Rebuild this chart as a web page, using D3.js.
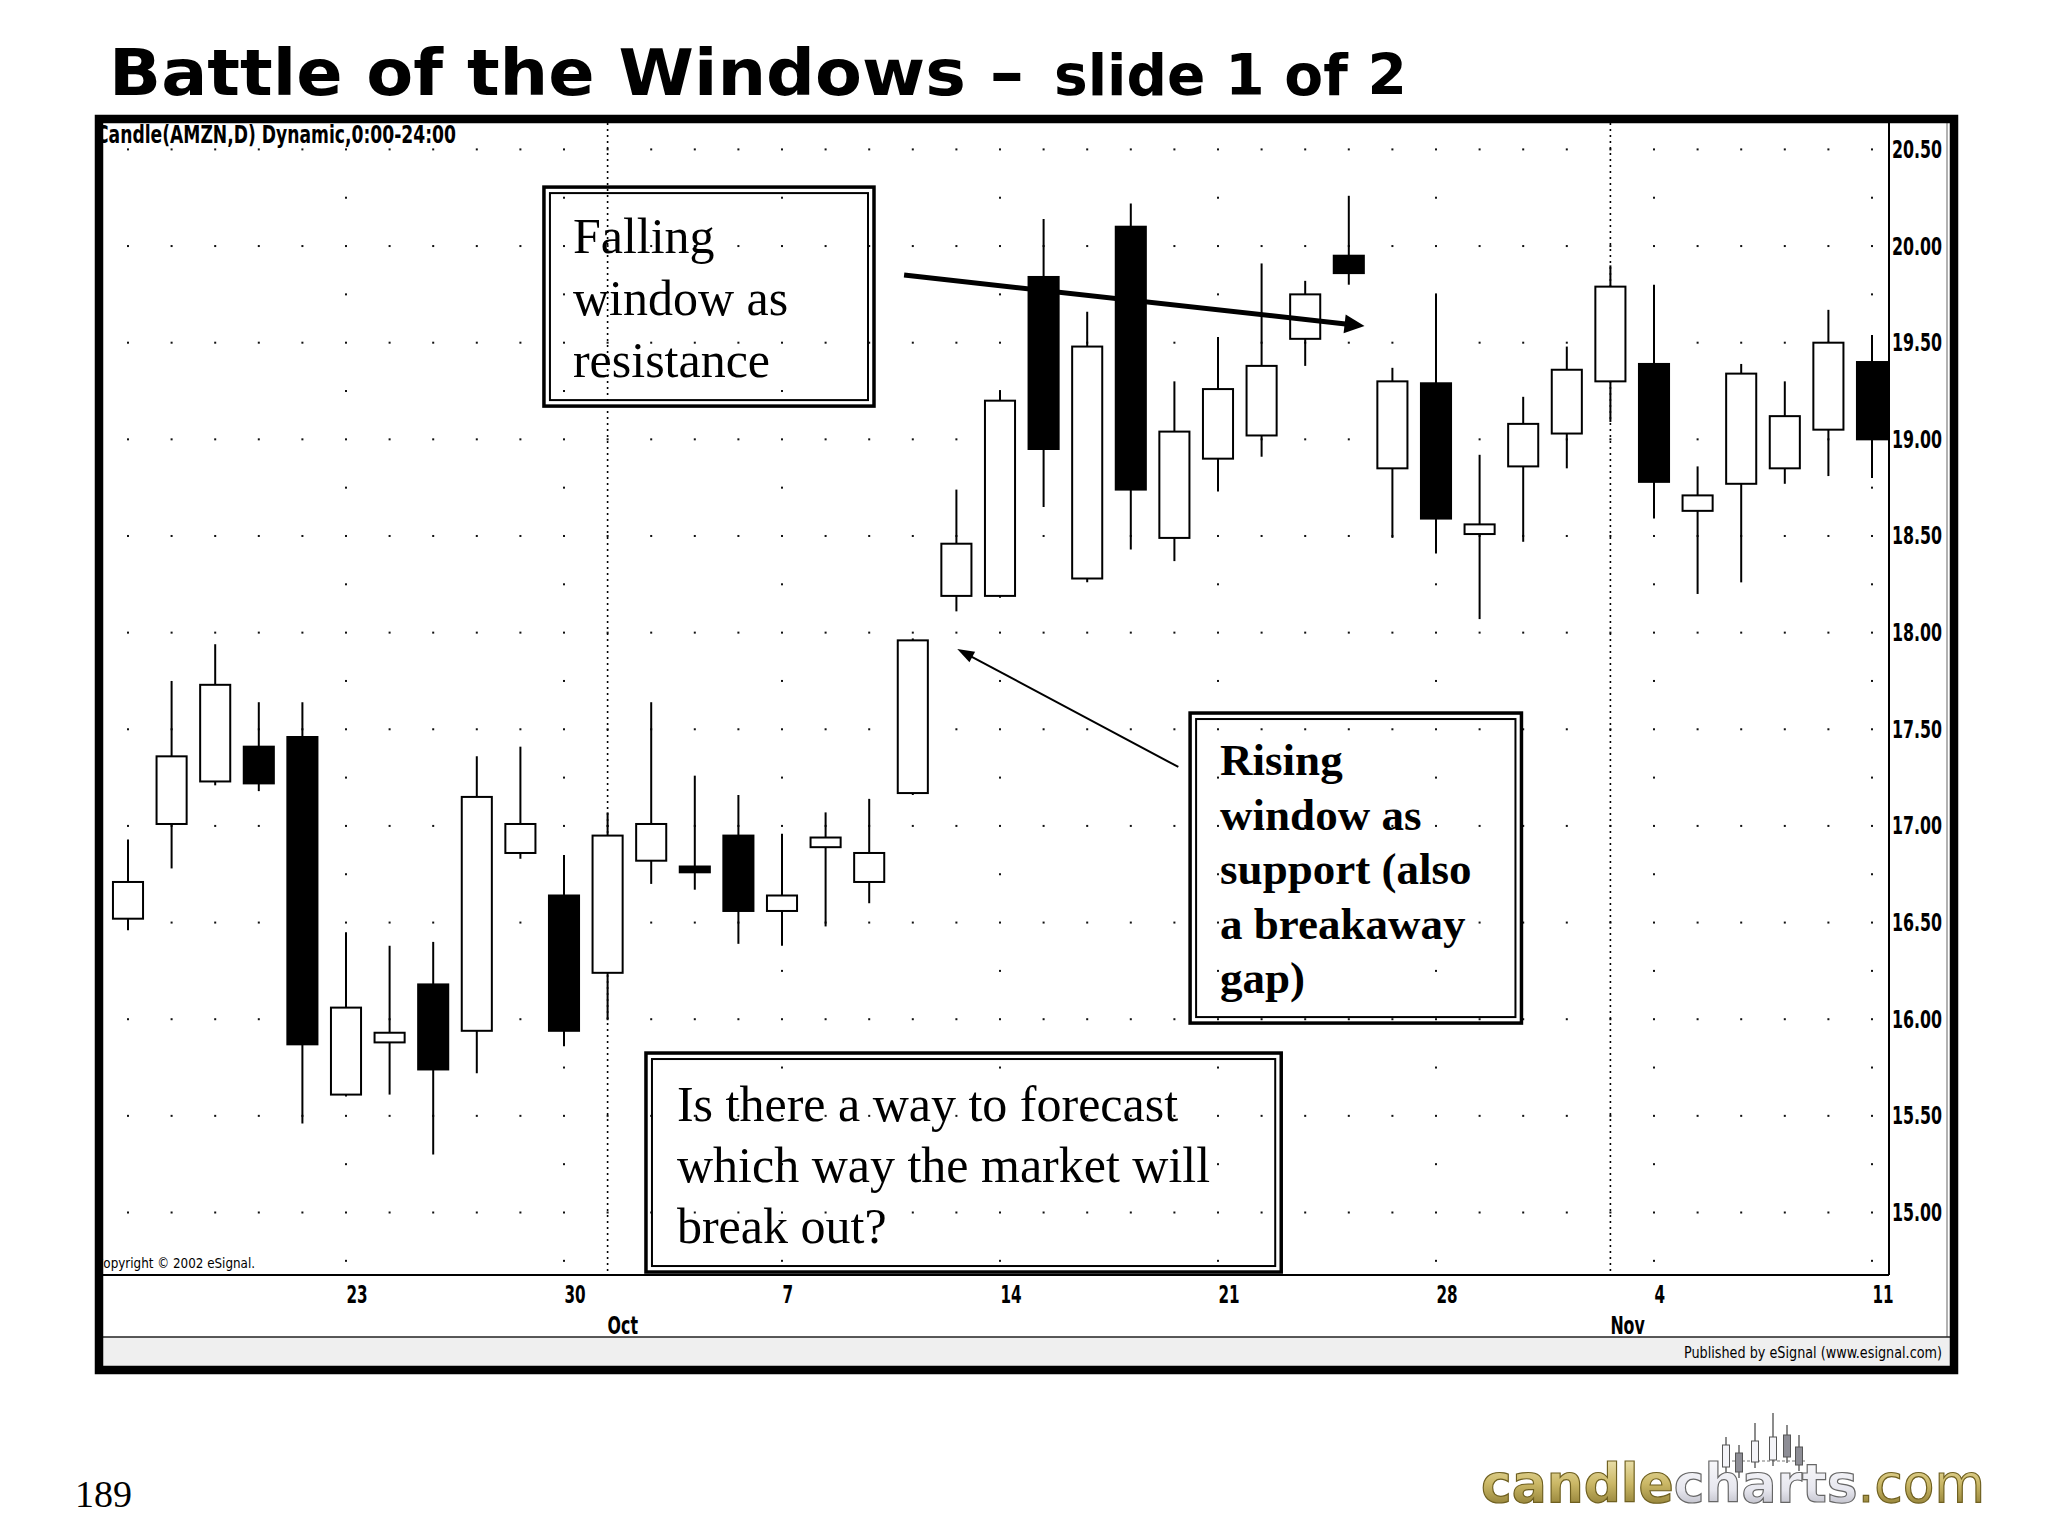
<!DOCTYPE html>
<html><head><meta charset="utf-8">
<script src="https://cdn.jsdelivr.net/npm/d3@7"></script>
<style>
html,body{margin:0;padding:0;background:#fff;}
svg{display:block;}
</style></head><body>
<svg id="c" width="2048" height="1536"></svg>
<script>
// ---------------- DATA ----------------
const dates = ["2002-09-16","2002-09-17","2002-09-18","2002-09-19","2002-09-20",
  "2002-09-23","2002-09-24","2002-09-25","2002-09-26","2002-09-27",
  "2002-09-30","2002-10-01","2002-10-02","2002-10-03","2002-10-04",
  "2002-10-07","2002-10-08","2002-10-09","2002-10-10","2002-10-11",
  "2002-10-14","2002-10-15","2002-10-16","2002-10-17","2002-10-18",
  "2002-10-21","2002-10-22","2002-10-23","2002-10-24","2002-10-25",
  "2002-10-28","2002-10-29","2002-10-30","2002-10-31","2002-11-01",
  "2002-11-04","2002-11-05","2002-11-06","2002-11-07","2002-11-08","2002-11-11"];
const openVals  = [16.52,17.01,17.23,17.41,17.46, 15.61,15.88,16.18,15.94,16.86, 16.64,16.24,16.82,16.79,16.95,
  16.56,16.89,16.71,17.17,18.19, 18.19,19.84,18.28,20.10,18.49, 18.90,19.02,19.52,19.95,18.85,
  19.29,18.51,18.86,19.03,19.30, 19.39,18.63,18.77,18.85,19.05,19.40];
const highVals  = [16.93,17.75,17.94,17.64,17.64, 16.45,16.38,16.40,17.36,17.41, 16.85,17.07,17.64,17.26,17.16,
  16.96,17.07,17.14,17.97,18.74, 19.25,20.14,19.66,20.22,19.30, 19.53,19.91,19.82,20.26,19.37,
  19.75,18.92,19.22,19.48,19.90, 19.80,18.86,19.39,19.30,19.67,19.54];
const lowVals   = [16.46,16.78,17.21,17.18,15.46, 15.60,15.61,15.30,15.72,16.83, 15.86,16.00,16.70,16.67,16.39,
  16.38,16.48,16.60,17.16,18.11, 18.18,18.65,18.26,18.43,18.37, 18.73,18.91,19.38,19.80,18.49,
  18.41,18.07,18.47,18.85,19.09, 18.59,18.20,18.26,18.77,18.81,18.80];
const closeVals = [16.71,17.36,17.73,17.22,15.87, 16.06,15.93,15.74,17.15,17.01, 15.94,16.95,17.01,16.76,16.56,
  16.64,16.94,16.86,17.96,18.46, 19.20,18.95,19.48,18.74,19.04, 19.26,19.38,19.75,19.86,19.30,
  18.59,18.56,19.08,19.36,19.79, 18.78,18.71,19.34,19.12,19.50,19.00];
const dayTickLabels = ["23","30","7","14","21","28","4","11"];
const monthTickLabels = ["Oct","Nov"];
const priceTicks = [15,15.5,16,16.5,17,17.5,18,18.5,19,19.5,20,20.5];
const priceTickLabels = ["15.00","15.50","16.00","16.50","17.00","17.50","18.00","18.50","19.00","19.50","20.00","20.50"];
const titleMain = "Battle of the Windows \u2013";
const titleSub = "slide 1 of 2";
const note1 = ["Falling","window as","resistance"];
const note2 = ["Rising","window as","support (also","a breakaway","gap)"];
const note3 = ["Is there a way to forecast","which way the market will","break out?"];

// ---------------- SETUP ----------------
const svg = d3.select("#c");
const parse = d3.timeParse("%Y-%m-%d");
const days = dates.map(parse);
const candles = dates.map((d,i)=>({i, date:days[i], o:openVals[i], h:highVals[i], l:lowVals[i], c:closeVals[i]}));
const x = d3.scaleLinear().domain([0, dates.length-1]).range([128, 1872]);
const y = d3.scaleLinear().domain([15, 20.5]).range([1212.5, 149.4]);
const P = {l:103, r:1889, t:123, b:1275};
const step = x(1)-x(0);
const bw = step*0.69;
// weekly marks: Mondays after the first bar (the first bar's week has no label)
const mondays = candles.filter(c=>c.i>0 && c.date.getDay()===1).map(c=>c.i);
const monthStarts = candles.filter(c=>c.i>0 && c.date.getMonth()!==days[c.i-1].getMonth()).map(c=>c.i);

svg.append("rect").attr("width",2048).attr("height",1536).attr("fill","#fff");

// dot grid
const dots = [];
candles.forEach(c=>{
  const q = mondays.includes(c.i) ? 1 : 2;
  for(let k=0;k<=30;k+=q){ const v=14.5+k*0.25; const py=y(v); if(py>P.t+3 && py<P.b-3) dots.push([x(c.i),py]); }
});
svg.append("g").selectAll("rect").data(dots).join("rect")
  .attr("x",d=>d[0]-1).attr("y",d=>d[1]-1).attr("width",2).attr("height",2).attr("fill","#111");

// month separators
svg.append("g").selectAll("line").data(monthStarts).join("line")
  .attr("x1",d=>x(d)).attr("x2",d=>x(d)).attr("y1",P.t).attr("y2",P.b)
  .attr("stroke","#000").attr("stroke-width",1.6).attr("stroke-dasharray","2,4");

// candles
const cg = svg.append("g").selectAll("g").data(candles).join("g");
cg.append("line").attr("x1",d=>x(d.i)).attr("x2",d=>x(d.i))
  .attr("y1",d=>y(d.h)).attr("y2",d=>y(d.l)).attr("stroke","#000").attr("stroke-width",2);
cg.append("rect")
  .attr("x",d=>x(d.i)-bw/2).attr("width",bw)
  .attr("y",d=>y(Math.max(d.o,d.c)))
  .attr("height",d=>Math.max(3, y(Math.min(d.o,d.c))-y(Math.max(d.o,d.c))))
  .attr("fill",d=>d.c>=d.o?"#fff":"#000").attr("stroke","#000").attr("stroke-width",2);

// axes lines
svg.append("line").attr("x1",P.l).attr("x2",P.r).attr("y1",P.b).attr("y2",P.b).attr("stroke","#000").attr("stroke-width",2);
svg.append("line").attr("x1",P.r).attr("x2",P.r).attr("y1",P.t).attr("y2",P.b).attr("stroke","#000").attr("stroke-width",2);
svg.append("line").attr("x1",1947).attr("x2",1947).attr("y1",P.t).attr("y2",1337).attr("stroke","#999").attr("stroke-width",1.5);

// price axis
const yAxis = d3.axisRight(y).tickValues(priceTicks).tickSize(0).tickPadding(3)
  .tickFormat((d,i)=>priceTickLabels[i]);
const ya = svg.append("g").attr("transform",`translate(${P.r},0)`).call(yAxis);
ya.select(".domain").remove();
ya.selectAll("text").attr("class","narrow").attr("font-size",25).attr("font-weight","bold").attr("fill","#000");

// date axis
const xAxis = d3.axisBottom(x).tickValues(mondays).tickSize(0).tickPadding(0)
  .tickFormat((d,i)=>dayTickLabels[i]);
const xa = svg.append("g").attr("transform",`translate(0,${P.b})`).call(xAxis);
xa.select(".domain").remove();
xa.selectAll("text").attr("class","narrow").attr("font-size",24).attr("font-weight","bold")
  .attr("text-anchor","start").attr("dy",null).attr("y",28).attr("fill","#000");
svg.append("g").selectAll("text").data(monthStarts).join("text").attr("class","narrow")
  .attr("x",d=>x(d)).attr("y",1334).attr("font-size",25).attr("font-weight","bold")
  .text((d,i)=>monthTickLabels[i]);

// header + copyright
svg.append("text").attr("class","narrow").attr("x",96).attr("y",143).attr("font-size",24).attr("font-weight","bold")
  .attr("data-w",360).text("Candle(AMZN,D) Dynamic,0:00-24:00");
svg.append("text").attr("class","narrow").attr("x",95).attr("y",1268).attr("font-size",14)
  .attr("data-w",160).text("Copyright \u00A9 2002 eSignal.");

// published band
svg.append("rect").attr("x",103).attr("y",1337).attr("width",1847).attr("height",29).attr("fill","#efefef");
svg.append("line").attr("x1",103).attr("x2",1950).attr("y1",1337).attr("y2",1337).attr("stroke","#222").attr("stroke-width",1.5);
svg.append("text").attr("class","narrow").attr("x",1942).attr("y",1358).attr("font-size",16)
  .attr("text-anchor","end").attr("data-w",258).text("Published by eSignal (www.esignal.com)");

// frame
svg.append("rect").attr("x",99).attr("y",119).attr("width",1855).attr("height",1251)
  .attr("fill","none").attr("stroke","#000").attr("stroke-width",8.5);

// annotation boxes (positioned in data space)
function box(i0,v0,i1,v1){
  const x0=x(i0), x1=x(i1), y0=y(v0), y1=y(v1);
  const g=svg.append("g");
  g.append("rect").attr("x",x0).attr("y",y0).attr("width",x1-x0).attr("height",y1-y0)
    .attr("fill","none").attr("stroke","#000").attr("stroke-width",3.5);
  g.append("rect").attr("x",x0+6).attr("y",y0+6).attr("width",x1-x0-12).attr("height",y1-y0-12)
    .attr("fill","none").attr("stroke","#000").attr("stroke-width",2);
  return {g,x0,y0};
}
function lines(b, arr, dx, dy0, lh, size, weight){
  b.g.append("g").selectAll("text").data(arr).join("text")
    .attr("x",b.x0+dx).attr("y",(d,i)=>b.y0+dy0+i*lh)
    .attr("font-family","'Liberation Serif','Times New Roman',serif").attr("font-size",size)
    .attr("font-weight",weight).attr("fill","#000").text(d=>d);
}
const b1 = box(9.54,20.305,17.11,19.172); lines(b1,note1,29,66,62,50,"normal");
const b2 = box(24.36,17.584,31.96,15.98); lines(b2,note2,30,62,54.5,45,"bold");
const b3 = box(11.88,15.825,26.45,14.692); lines(b3,note3,31,68,61,50,"normal");

// arrows
function arrow(i0,v0,i1,v1,w,hl,hw){
  const ax=x(i0), ay=y(v0), bx=x(i1), by=y(v1);
  const L=Math.hypot(bx-ax,by-ay), ux=(bx-ax)/L, uy=(by-ay)/L;
  const baseX=bx-ux*hl, baseY=by-uy*hl;
  svg.append("line").attr("x1",ax).attr("y1",ay).attr("x2",baseX+ux*1).attr("y2",baseY+uy*1)
    .attr("stroke","#000").attr("stroke-width",w);
  svg.append("path").attr("d",`M${bx},${by}L${baseX-uy*hw},${baseY+ux*hw}L${baseX+uy*hw},${baseY-ux*hw}Z`).attr("fill","#000");
}
arrow(17.80,19.85,28.36,19.586,5,20,9.5);
arrow(24.09,17.305,19.02,17.915,2,17,6);

// title
svg.append("text").attr("x",109).attr("y",95).attr("font-family","'DejaVu Sans',Verdana,sans-serif")
  .attr("font-weight","bold").attr("font-size",64).attr("textLength",915).attr("lengthAdjust","spacingAndGlyphs").text(titleMain);
svg.append("text").attr("x",1054).attr("y",95).attr("font-family","'DejaVu Sans',Verdana,sans-serif")
  .attr("font-weight","bold").attr("font-size",57).attr("textLength",353).attr("lengthAdjust","spacingAndGlyphs").text(titleSub);

// page number
svg.append("text").attr("x",75).attr("y",1507).attr("font-family","'Liberation Serif',serif").attr("font-size",38).text("189");

// logo
const defs = svg.append("defs");
const gold = defs.append("linearGradient").attr("id","gold").attr("x1",0).attr("x2",0).attr("y1",0).attr("y2",1);
gold.append("stop").attr("offset","0%").attr("stop-color","#f4ecc0");
gold.append("stop").attr("offset","50%").attr("stop-color","#cbb866");
gold.append("stop").attr("offset","100%").attr("stop-color","#7d6c26");
const silver = defs.append("linearGradient").attr("id","silver").attr("x1",0).attr("x2",0).attr("y1",0).attr("y2",1);
silver.append("stop").attr("offset","0%").attr("stop-color","#ffffff");
silver.append("stop").attr("offset","60%").attr("stop-color","#e6e6ee");
silver.append("stop").attr("offset","100%").attr("stop-color","#a9a9b4");
const logoCandles = [[1726,1437,1445,1467,1474,0],[1739,1445,1453,1472,1478,1],[1755,1423,1441,1462,1468,0],
  [1773,1413,1437,1460,1466,0],[1787,1425,1435,1457,1463,1],[1799,1435,1447,1465,1471,1]];
const lg = svg.append("g");
lg.append("line").attr("x1",1722).attr("x2",1807).attr("y1",1461).attr("y2",1461).attr("stroke","#777").attr("stroke-width",1.2).attr("stroke-dasharray","3,2");
lg.selectAll("line.w").data(logoCandles).join("line").attr("class","w").attr("x1",d=>d[0]).attr("x2",d=>d[0]).attr("y1",d=>d[1]).attr("y2",d=>d[4]).attr("stroke","#666").attr("stroke-width",1.5);
lg.selectAll("rect").data(logoCandles).join("rect").attr("x",d=>d[0]-3.5).attr("y",d=>d[2]).attr("width",7).attr("height",d=>d[3]-d[2])
  .attr("fill",d=>d[5]?"#8d8d95":"#f4f4f8").attr("stroke","#555").attr("stroke-width",1);
const lt = svg.append("text").attr("x",1481).attr("y",1502).attr("font-family","'DejaVu Sans',Verdana,sans-serif")
  .attr("font-weight","bold").attr("font-size",54).attr("textLength",504).attr("lengthAdjust","spacingAndGlyphs")
  .attr("stroke-width",1.2);
lt.append("tspan").attr("fill","url(#gold)").attr("stroke","#6f6020").text("candle");
lt.append("tspan").attr("fill","url(#silver)").attr("stroke","#666").text("charts");
lt.append("tspan").attr("fill","url(#gold)").attr("stroke","#6f6020").attr("font-weight","normal").text(".com");

// narrow font handling
function measure(fam,txt,size,weight){
  const t=svg.append("text").attr("font-family",fam).attr("font-size",size).attr("font-weight",weight).text(txt);
  const w=t.node().getComputedTextLength(); t.remove(); return w;
}
const hasNarrow = Math.abs(measure("'Liberation Sans Narrow',monospace","20.00 Nov",24.5,"bold")-measure("monospace","20.00 Nov",24.5,"bold"))>0.5;
const NARROW = hasNarrow ? "'Liberation Sans Narrow'" : "'DejaVu Sans Condensed','DejaVu Sans'";
const ratio = Math.min(1, 50/measure(NARROW,"20.00",25,"bold"));
svg.selectAll(".narrow").each(function(){
  const t=d3.select(this);
  t.attr("font-family",NARROW);
  const target = t.attr("data-w");
  const len = this.getComputedTextLength();
  if(target){ t.attr("textLength",+target).attr("lengthAdjust","spacingAndGlyphs"); }
  else if(ratio<0.97){ t.attr("textLength",len*ratio).attr("lengthAdjust","spacingAndGlyphs"); }
});
</script>
</body></html>
